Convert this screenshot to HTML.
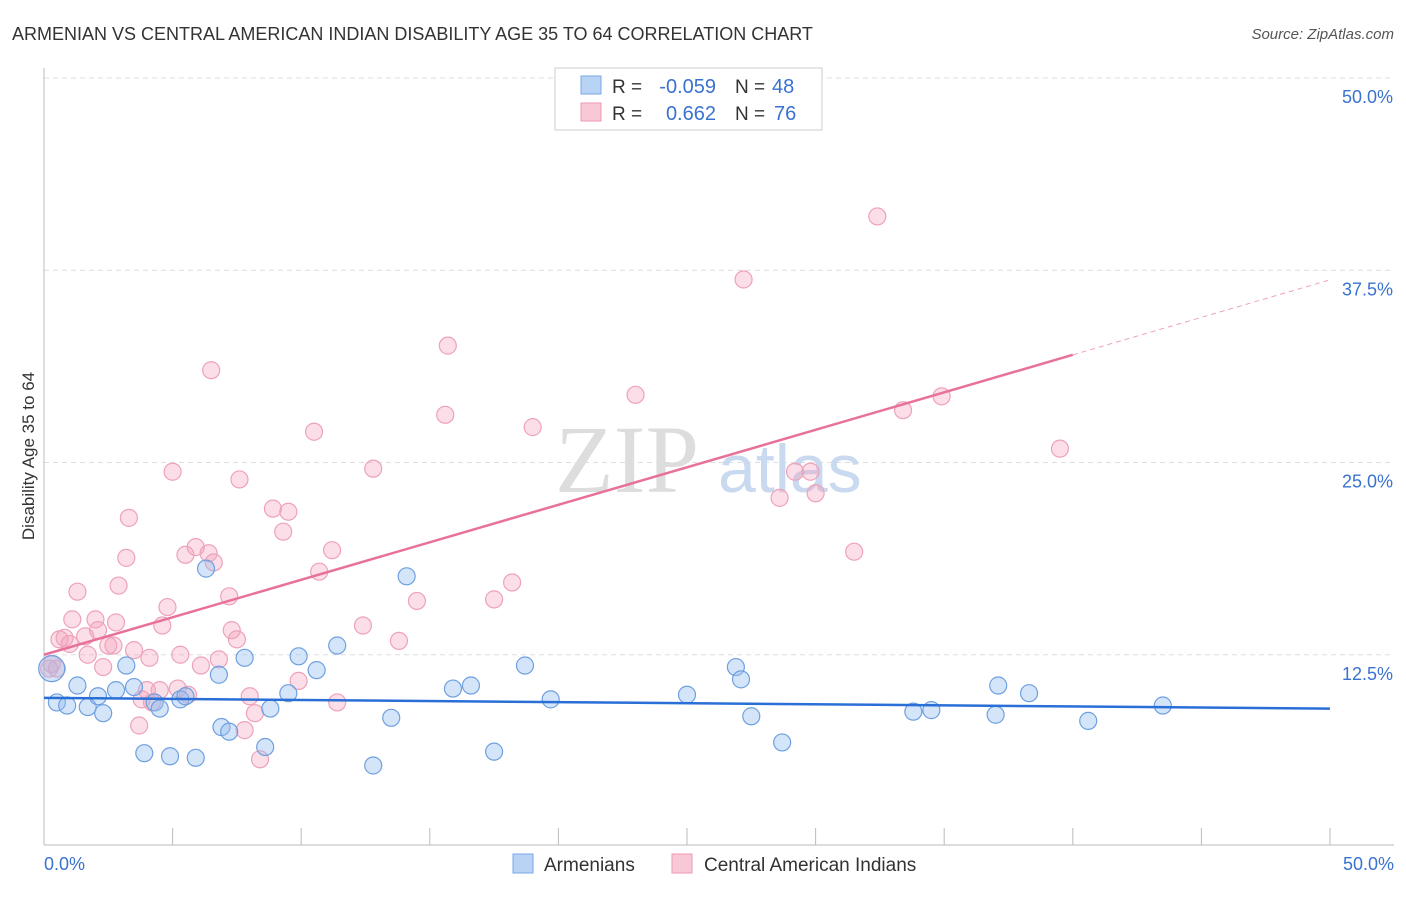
<!DOCTYPE html>
<html><head><meta charset="utf-8"><style>
body{margin:0;background:#fff;font-family:"Liberation Sans",sans-serif}
</style></head><body>
<svg id="c" width="1406" height="892" xmlns="http://www.w3.org/2000/svg">
<text x="12" y="40" font-size="18" fill="#333">ARMENIAN VS CENTRAL AMERICAN INDIAN DISABILITY AGE 35 TO 64 CORRELATION CHART</text>
<text x="1394" y="39" font-size="15" fill="#555" font-style="italic" text-anchor="end">Source: ZipAtlas.com</text>
<text x="34" y="456" font-size="17" fill="#333" text-anchor="middle" transform="rotate(-90 34 456)">Disability Age 35 to 64</text>
<g id="grid"></g>
<text x="555" y="492" font-size="96" fill="#ddd" font-family="Liberation Serif">ZIP</text>
<text x="718" y="492" font-size="68" fill="#c9d9f0">atlas</text>
<g id="pts"></g>
<g id="lines"></g>
<g>
<rect x="555" y="68" width="267" height="62" fill="#fff" stroke="#ccc"/>
<rect x="581" y="76" width="20" height="18" fill="#b8d3f5" stroke="#7aaae8"/>
<rect x="581" y="103" width="20" height="18" fill="#f9c8d6" stroke="#ee9ab3"/>
<text x="612" y="93" font-size="19" fill="#333">R =</text>
<text x="716" y="93" font-size="20" fill="#3a72d0" text-anchor="end">-0.059</text>
<text x="735" y="93" font-size="19" fill="#333">N =</text>
<text x="772" y="93" font-size="20" fill="#3a72d0">48</text>
<text x="612" y="120" font-size="19" fill="#333">R =</text>
<text x="716" y="120" font-size="20" fill="#3a72d0" text-anchor="end">0.662</text>
<text x="735" y="120" font-size="19" fill="#333">N =</text>
<text x="774" y="120" font-size="20" fill="#3a72d0">76</text>
</g>
<g>
<rect x="513" y="854" width="20" height="19" fill="#b8d3f5" stroke="#7aaae8"/>
<text x="544" y="871" font-size="19" fill="#333">Armenians</text>
<rect x="672" y="854" width="20" height="19" fill="#f9c8d6" stroke="#ee9ab3"/>
<text x="704" y="871" font-size="19" fill="#333">Central American Indians</text>
</g>
</svg>
<script>
const blueX=[0.3,0.5,0.9,1.3,1.7,2.1,2.3,2.8,3.2,3.5,3.9,4.3,4.5,4.9,5.3,5.5,5.9,6.3,6.8,6.9,7.2,7.8,8.6,8.8,9.5,9.9,10.6,11.4,12.8,13.5,14.1,15.9,16.6,17.5,18.7,19.7,25.0,26.9,27.1,27.5,28.7,33.8,34.5,37.0,37.1,38.3,40.6,43.5];
const blueY=[11.6,9.4,9.2,10.5,9.1,9.8,8.7,10.2,11.8,10.4,6.1,9.4,9.0,5.9,9.6,9.8,5.8,18.1,11.2,7.8,7.5,12.3,6.5,9.0,10.0,12.4,11.5,13.1,5.3,8.4,17.6,10.3,10.5,6.2,11.8,9.6,9.9,11.7,10.9,8.5,6.8,8.8,8.9,8.6,10.5,10.0,8.2,9.2];
const pinkX=[0.3,0.2,0.5,0.6,0.8,1.0,1.1,1.3,1.6,1.7,2.0,2.1,2.3,2.5,2.7,2.8,2.9,3.2,3.3,3.5,3.7,3.8,4.0,4.1,4.2,4.5,4.6,4.8,5.0,5.2,5.3,5.5,5.6,5.9,6.1,6.4,6.5,6.6,6.8,7.2,7.3,7.5,7.6,7.8,8.0,8.2,8.4,8.9,9.3,9.5,9.9,10.5,10.7,11.2,11.4,12.4,12.8,13.8,14.5,15.6,15.7,17.5,18.2,19.0,23.0,27.2,28.6,29.2,29.8,30.0,31.5,32.4,33.4,34.9,39.5];
const pinkY=[11.9,11.6,11.6,13.5,13.6,13.2,14.8,16.6,13.7,12.5,14.8,14.1,11.7,13.1,13.1,14.6,17.0,18.8,21.4,12.8,7.9,9.6,10.2,12.3,9.4,10.2,14.4,15.6,24.4,10.3,12.5,19.0,9.9,19.5,11.8,19.1,31.0,18.5,12.2,16.3,14.1,13.5,23.9,7.6,9.8,8.7,5.7,22.0,20.5,21.8,10.8,27.0,17.9,19.3,9.4,14.4,24.6,13.4,16.0,28.1,32.6,16.1,17.2,27.3,29.4,36.9,22.7,24.4,24.4,23.0,19.2,41.0,28.4,29.3,25.9];
const yTicks=[12.5,25.0,37.5,50.0];
const blueTrend=[9.7,9.0];
const pinkTrend=[12.5,0.4875];
const NS="http://www.w3.org/2000/svg";
const sx=v=>44+v/50*1286, sy=v=>847-v/50*769;
function mk(t,a,p){const e=document.createElementNS(NS,t);for(const k in a)e.setAttribute(k,a[k]);p.appendChild(e);return e;}
const g=document.getElementById('grid');
yTicks.forEach(t=>{
 const l=mk('line',{x1:44,x2:1394,y1:sy(t),y2:sy(t),stroke:'#ddd','stroke-dasharray':'5,4'},g);
 
 
 const tx=mk('text',{x:1393,y:sy(t)+25,'font-size':18,fill:'#3a72d0','text-anchor':'end'},g);
 tx.textContent=t.toFixed(1)+'%';
 
 
});
const ax=mk('line',{x1:44,x2:1394,y1:845,y2:845,stroke:'#bbb'},g);


const ay=mk('line',{x1:44,x2:44,y1:68,y2:845,stroke:'#bbb'},g);


for(let i=1;i<=10;i++){const tk=mk('line',{x1:sx(i*5),x2:sx(i*5),y1:828,y2:845,stroke:'#bbb'},g);
 
 }
const x0=mk('text',{x:44,y:870,'font-size':18,fill:'#3a72d0'},g);x0.textContent='0.0%';


const x1=mk('text',{x:1394,y:870,'font-size':18,fill:'#3a72d0','text-anchor':'end'},g);x1.textContent='50.0%';


const p=document.getElementById('pts');
pinkX.forEach((x,i)=>{const c=mk('circle',{cx:sx(x),cy:sy(pinkY[i]),r:8.5,fill:'rgba(244,160,185,0.35)',stroke:'#eea2b9','stroke-width':1.2},p);
 
 });
blueX.forEach((x,i)=>{const c=mk('circle',{cx:sx(x),cy:sy(blueY[i]),r:i==0?13:8.5,fill:'rgba(150,190,240,0.4)',stroke:'#6ea0e0','stroke-width':1.2},p);
 
 });
const L=document.getElementById('lines');
const bl=mk('line',{x1:sx(0),y1:sy(blueTrend[0]),x2:sx(50),y2:sy(blueTrend[1]),stroke:'#2a6fd6','stroke-width':2.5},L);


const pl=mk('line',{x1:sx(0),y1:sy(pinkTrend[0]),x2:sx(40),y2:sy(pinkTrend[0]+pinkTrend[1]*40),stroke:'#e8719a','stroke-width':2.5},L);


const pd=mk('line',{x1:sx(40),y1:sy(pinkTrend[0]+pinkTrend[1]*40),x2:sx(50),y2:sy(pinkTrend[0]+pinkTrend[1]*50),stroke:'#eea2b9','stroke-width':1,'stroke-dasharray':'5,4'},L);


</script>
</body></html>
